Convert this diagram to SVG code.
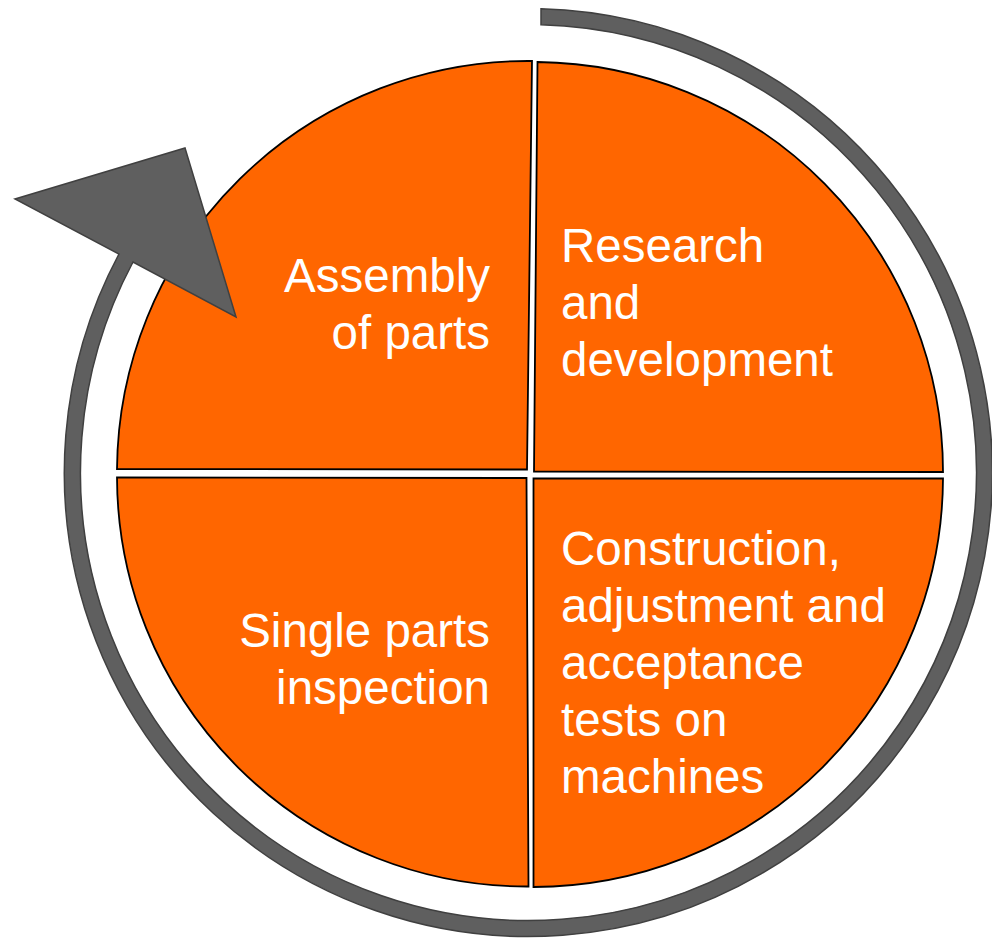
<svg xmlns="http://www.w3.org/2000/svg" width="992" height="939" viewBox="0 0 992 939">
<style>
.q{fill:#FF6600;stroke:#000;stroke-width:1.8;stroke-linejoin:miter}
.t{font-family:"Liberation Sans",Arial,sans-serif;font-size:47.5px;fill:#fff}
.r{text-anchor:end}
.arrow{fill:#5F5F5F;stroke:#404040;stroke-width:1.5;stroke-linejoin:miter}
</style>
<rect width="992" height="939" fill="#fff"/>
<g id="node-assembly">
<path class="q" d="M527 469.5 L532 61 A411 411 0 0 0 117 469 Z"/>
<text class="t r" x="490" y="292">Assembly</text>
<text class="t r" x="490" y="349">of parts</text>
</g>
<g id="node-research">
<path class="q" d="M534 471.5 L537.5 62 A410 410 0 0 1 943 472 Z"/>
<text class="t" x="561" y="262">Research</text>
<text class="t" x="561" y="319">and</text>
<text class="t" x="561" y="376">development</text>
</g>
<g id="node-inspection">
<path class="q" d="M526.5 478 L117 477.5 A410 410 0 0 0 528.5 886.5 Z"/>
<text class="t r" x="490" y="647">Single parts</text>
<text class="t r" x="490" y="704">inspection</text>
</g>
<g id="node-construction">
<path class="q" d="M533.5 478.5 L943 478.5 A410 410 0 0 1 533.5 887 Z"/>
<text class="t" x="561" y="565">Construction,</text>
<text class="t" x="561" y="622">adjustment and</text>
<text class="t" x="561" y="679">acceptance</text>
<text class="t" x="561" y="736">tests on</text>
<text class="t" x="561" y="793">machines</text>
</g>
<g id="connectors">
<path class="arrow" d="M541 8.7 A464 464 0 1 1 119 254 L15 199 L185 148 L236 317 L133 262 A448 448 0 1 0 541 24.7 Z"/>
</g>
</svg>
